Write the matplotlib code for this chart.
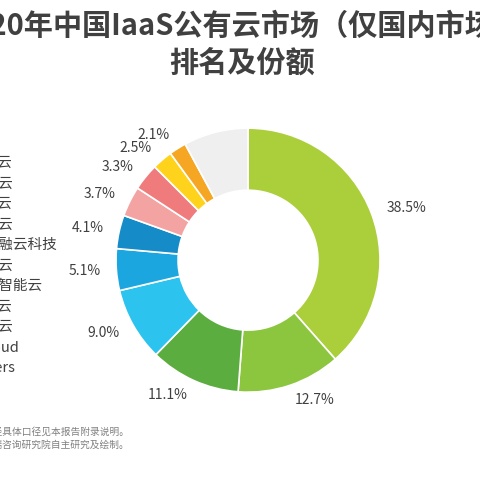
import matplotlib
matplotlib.use("Agg")
import matplotlib.pyplot as plt
import numpy as np

plt.rcParams['font.family'] = ['Noto Sans CJK SC', 'DejaVu Sans']

names = ["阿里云", "天翼云", "腾讯云", "华为云", "光环融云科技", "浪潮云", "百度智能云", "金山云", "京东云", "UCloud", "Others"]
shares = [38.5, 12.7, 11.1, 9.0, 5.1, 4.1, 3.7, 3.3, 2.5, 2.1, 7.9]
labels = ["38.5%", "12.7%", "11.1%", "9.0%", "5.1%", "4.1%", "3.7%", "3.3%", "2.5%", "2.1%", ""]
colors = ["#aacf3a", "#8cc63f", "#5cad3f", "#2cc3ee", "#1ca6df", "#158bc7", "#f4a3a3", "#ef7b7d", "#ffd21c", "#f5a623", "#efefef"]

fig = plt.figure(figsize=(4.8, 4.8), dpi=100)
ax = fig.add_axes([0.2417, 0.183, 0.55, 0.55])
wedges, _ = ax.pie(shares, colors=colors, startangle=90, counterclock=False,
                   wedgeprops=dict(width=0.47, edgecolor="white", linewidth=1.2))
for w, lab in zip(wedges, labels):
    if not lab:
        continue
    ang = np.deg2rad((w.theta1 + w.theta2) / 2)
    x, y = 1.12 * np.cos(ang), 1.12 * np.sin(ang)
    ax.text(x, y, lab, ha="left" if x > 0.1 else ("right" if x < -0.1 else "center"),
            va="center", fontsize=10, color="#404040")
ax.set_xlim(-1, 1); ax.set_ylim(-1, 1); ax.set_aspect("equal"); ax.axis("off")

fig.text(0.5, 0.945, "2020年中国IaaS公有云市场（仅国内市场）", ha="center", va="center",
         fontsize=21, fontweight="bold", color="#404040")
fig.text(0.505, 0.87, "排名及份额", ha="center", va="center",
         fontsize=21, fontweight="bold", color="#404040")

# legend (cut off at left edge as in the reference)
y0, dy = 163, 20.5
for i, n in enumerate(names):
    fig.text(-31 / 480, 1 - (y0 + i * dy) / 480, n, ha="left", va="center",
             fontsize=10.5, color="#404040")

fig.text(0.27, 1 - 432 / 480, "注释：市场规模统计口径具体口径见本报告附录说明。", ha="right", va="center",
         fontsize=7, color="#808080")
fig.text(0.27, 1 - 445 / 480, "来源：综合企业财报，艾瑞咨询研究院自主研究及绘制。", ha="right", va="center",
         fontsize=7, color="#808080")

fig.savefig("out.png", dpi=100, facecolor="white")
